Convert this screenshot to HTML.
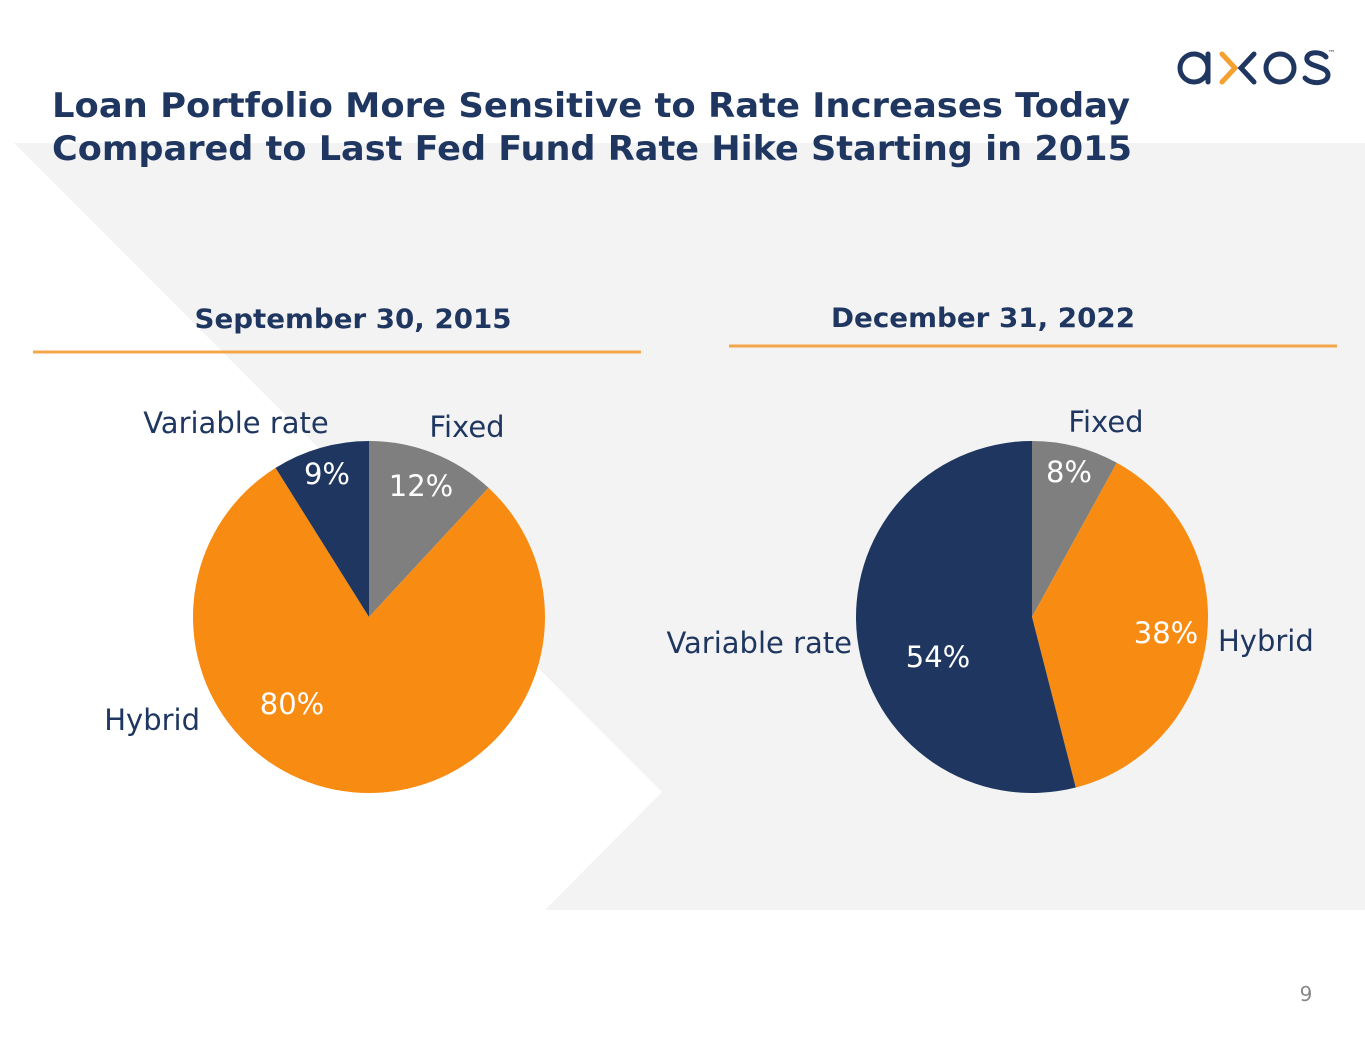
<!DOCTYPE html>
<html><head><meta charset="utf-8"><style>
body{margin:0;width:1365px;height:1055px;background:#fff;overflow:hidden;font-family:"DejaVu Sans","Liberation Sans",sans-serif;}
svg{position:absolute;left:0;top:0}
</style></head><body>
<svg width="1365" height="1055">
<polygon points="14,143 1365,143 1365,910 545,910 662,792" fill="#f3f3f3"/>
<text x="52" y="117" font-size="34" font-weight="bold" fill="#1f3760" textLength="1078" lengthAdjust="spacingAndGlyphs">Loan Portfolio More Sensitive to Rate Increases Today</text>
<text x="52" y="160" font-size="34" font-weight="bold" fill="#1f3760" textLength="1080" lengthAdjust="spacingAndGlyphs">Compared to Last Fed Fund Rate Hike Starting in 2015</text>
<g fill="none" stroke-width="5" stroke-linecap="round">
<circle cx="1194" cy="68" r="14" stroke="#1f3760"/><line x1="1208" y1="54" x2="1208" y2="82" stroke="#1f3760"/>
<polyline points="1222,54 1235,68 1222,82" stroke="#f5a030"/>
<polyline points="1254,54 1241,68 1254,82" stroke="#1f3760"/>
<circle cx="1280" cy="68" r="14" stroke="#1f3760"/>
<path d="M1326,57 C1320,50 1305,52 1307,60 C1309,67 1328,66 1328,75 C1328,84 1311,85 1305,78" stroke="#1f3760"/>
<text x="1328" y="55" font-size="7" fill="#1f3760" stroke="none">™</text>
</g>
<text x="353" y="328" text-anchor="middle" font-size="27" font-weight="bold" fill="#1f3760" textLength="317" lengthAdjust="spacingAndGlyphs">September 30, 2015</text>
<line x1="33" y1="352" x2="641" y2="352" stroke="#f5a64a" stroke-width="3"/>
<text x="983" y="327" text-anchor="middle" font-size="27" font-weight="bold" fill="#1f3760" textLength="304" lengthAdjust="spacingAndGlyphs">December 31, 2022</text>
<line x1="729" y1="346" x2="1337" y2="346" stroke="#f5a64a" stroke-width="3"/>
<g id="pies"></g>
<text x="1306" y="1001" text-anchor="middle" font-size="20" fill="#888">9</text>
</svg>
<script>
const categories=["Fixed","Hybrid","Variable rate"];
const colors=["#7f7f7f","#f88b12","#1f3760"];
const values2015=[12,80,9];
const values2022=[8,38,54];
const labels2015=["12%","80%","9%"];
const labels2022=["8%","38%","54%"];
const NS="http://www.w3.org/2000/svg";
const g=document.getElementById('pies');
function mk(tag,attrs){const e=document.createElementNS(NS,tag);for(const k in attrs)e.setAttribute(k,attrs[k]);return e;}
function pie(cx,cy,r,vals,labs,id,catPos,valPos){
  const tot=vals.reduce((a,b)=>a+b,0);let a0=0;
  vals.forEach((v,i)=>{
    const a1=a0+v/tot*2*Math.PI;
    const x0=cx+r*Math.sin(a0),y0=cy-r*Math.cos(a0),x1=cx+r*Math.sin(a1),y1=cy-r*Math.cos(a1);
    const p=mk('path',{d:`M${cx},${cy}L${x0},${y0}A${r},${r} 0 ${a1-a0>Math.PI?1:0} 1 ${x1},${y1}Z`,fill:colors[i]});
    
    
    g.appendChild(p);
    const t=mk('text',{x:valPos[i][0],y:valPos[i][1]+10,'text-anchor':'middle','font-size':29,fill:'#fff'});
    t.textContent=labs[i];
    
    
    g.appendChild(t);
    const c=mk('text',{x:catPos[i][0],y:catPos[i][1],'text-anchor':catPos[i][2],'font-size':29,fill:'#1f3760'});
    c.textContent=categories[i];
    
    
    g.appendChild(c);
    a0=a1;
  });
}
pie(369,617,176,values2015,labels2015,'pie-2015',[[467,437,'middle'],[200,730,'end'],[236,433,'middle']],[[421,486],[292,704],[327,474]]);
pie(1032,617,176,values2022,labels2022,'pie-2022',[[1106,432,'middle'],[1218,651,'start'],[852,653,'end']],[[1069,472],[1166,633],[938,657]]);
</script>
</body></html>
